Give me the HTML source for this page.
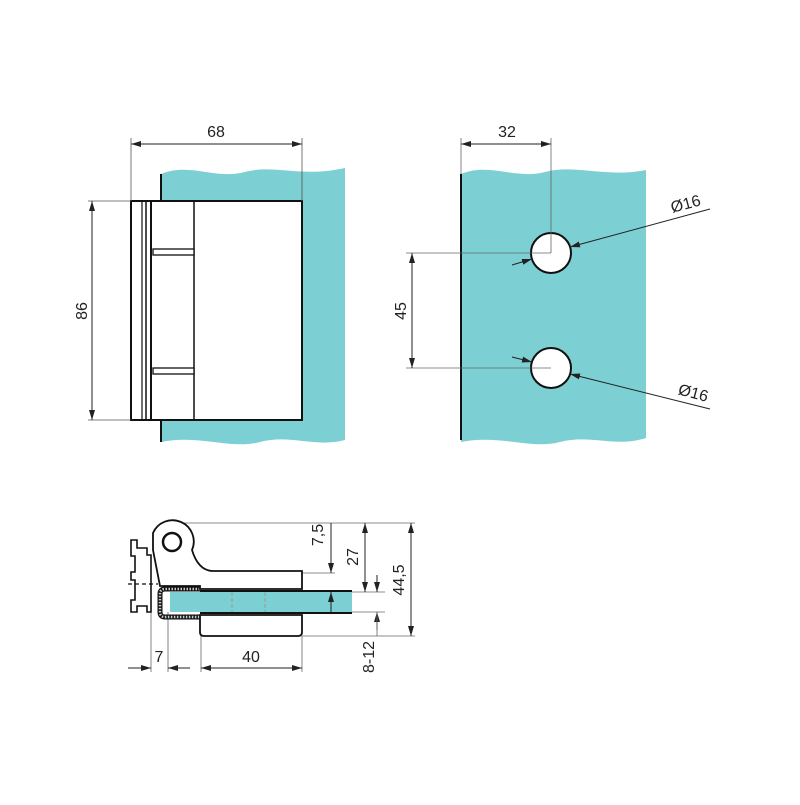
<!DOCTYPE html>
<html><head><meta charset="utf-8"><style>
html,body{margin:0;padding:0;background:#fff;}
text{font-family:"Liberation Sans",sans-serif;font-size:16px;fill:#222;}
</style></head><body>
<svg width="800" height="800" viewBox="0 0 800 800" xmlns="http://www.w3.org/2000/svg">
<defs>
<marker id="a" viewBox="0 0 10 6" refX="10" refY="3" markerWidth="10" markerHeight="6" orient="auto-start-reverse" markerUnits="userSpaceOnUse"><path d="M0,0 L10,3 L0,6z" fill="#222"/></marker>
</defs>
<!-- top-left glass -->
<path d="M161,174 C190,162 215,180 245,172 C275,164 300,178 345,168 L345,440 C315,448 290,434 260,442 C230,450 200,434 161,442 Z" fill="#7ccfd3"/>
<line x1="161" y1="174" x2="161" y2="442" stroke="#111" stroke-width="2"/>
<!-- hinge plate -->
<rect x="131" y="201" width="171" height="219" fill="#fff" stroke="#111" stroke-width="2"/>
<line x1="142" y1="201" x2="142" y2="420" stroke="#111" stroke-width="1.2"/>
<line x1="146" y1="201" x2="146" y2="420" stroke="#111" stroke-width="1.5"/>
<line x1="151" y1="201" x2="151" y2="420" stroke="#111" stroke-width="2"/>
<line x1="194" y1="201" x2="194" y2="420" stroke="#111" stroke-width="1.5"/>
<rect x="153" y="249" width="41" height="6" fill="#fff" stroke="#111" stroke-width="1.3"/>
<rect x="153" y="368" width="41" height="6" fill="#fff" stroke="#111" stroke-width="1.3"/>
<!-- dims top-left -->
<g stroke="#555" stroke-width="0.8">
<line x1="131" y1="138" x2="131" y2="201"/><line x1="302" y1="138" x2="302" y2="201"/>
<line x1="88" y1="201" x2="131" y2="201"/><line x1="88" y1="420" x2="131" y2="420"/>
</g>
<line x1="131" y1="144" x2="302" y2="144" stroke="#222" stroke-width="1" marker-start="url(#a)" marker-end="url(#a)"/>
<line x1="92" y1="201" x2="92" y2="420" stroke="#222" stroke-width="1" marker-start="url(#a)" marker-end="url(#a)"/>
<text x="216" y="137" text-anchor="middle">68</text>
<text transform="translate(87,311) rotate(-90)" text-anchor="middle">86</text>
<!-- top-right glass -->
<path d="M461,174 C490,162 515,180 545,172 C575,164 605,178 646,170 L646,438 C615,448 590,434 560,442 C530,450 500,434 461,442 Z" fill="#7ccfd3"/>
<line x1="461" y1="174" x2="461" y2="440" stroke="#111" stroke-width="2"/>
<circle cx="551" cy="253" r="20" fill="#fff" stroke="#111" stroke-width="2"/>
<circle cx="551" cy="368" r="20" fill="#fff" stroke="#111" stroke-width="2"/>
<g stroke="#666" stroke-width="0.8">
<line x1="461" y1="138" x2="461" y2="174"/><line x1="551" y1="138" x2="551" y2="253"/>
<line x1="406" y1="253" x2="551" y2="253"/><line x1="406" y1="368" x2="551" y2="368"/>
</g>
<line x1="461" y1="144" x2="551" y2="144" stroke="#222" stroke-width="1" marker-start="url(#a)" marker-end="url(#a)"/>
<line x1="412" y1="253" x2="412" y2="368" stroke="#222" stroke-width="1" marker-start="url(#a)" marker-end="url(#a)"/>
<text x="507" y="137" text-anchor="middle">32</text>
<text transform="translate(406,311) rotate(-90)" text-anchor="middle">45</text>
<line x1="512" y1="265" x2="532" y2="259" stroke="#222" stroke-width="1" marker-end="url(#a)"/>
<line x1="710" y1="209" x2="570" y2="247" stroke="#222" stroke-width="1" marker-end="url(#a)"/>
<line x1="512" y1="357" x2="532" y2="362" stroke="#222" stroke-width="1" marker-end="url(#a)"/>
<line x1="710" y1="409" x2="570" y2="374" stroke="#222" stroke-width="1" marker-end="url(#a)"/>
<text transform="translate(687,209) rotate(-15)" text-anchor="middle">Ø16</text>
<text transform="translate(692,398) rotate(15)" text-anchor="middle">Ø16</text>
<!-- bottom section -->
<g stroke="#666" stroke-width="0.8">
<line x1="180" y1="523" x2="415" y2="523"/>
<line x1="302" y1="573" x2="335" y2="573"/>
<line x1="352" y1="592" x2="385" y2="592"/>
<line x1="352" y1="612" x2="385" y2="612"/>
<line x1="302" y1="636" x2="415" y2="636"/>
<line x1="151" y1="612" x2="151" y2="672"/><line x1="168" y1="612" x2="168" y2="672"/>
<line x1="201" y1="636" x2="201" y2="672"/><line x1="302" y1="636" x2="302" y2="672"/>
</g>
<!-- glass -->
<rect x="170" y="592" width="182" height="20" fill="#7ccfd3"/>
<line x1="200" y1="591" x2="352" y2="591" stroke="#111" stroke-width="2"/>
<line x1="200" y1="613" x2="352" y2="613" stroke="#111" stroke-width="2"/>
<line x1="232" y1="592" x2="232" y2="612" stroke="#999" stroke-width="1" stroke-dasharray="4,2"/>
<line x1="265" y1="592" x2="265" y2="612" stroke="#999" stroke-width="1" stroke-dasharray="4,2"/>
<!-- gasket -->
<path d="M200,589 L165,589 Q160,589 160,594 L160,612 Q160,617 165,617 L200,617" fill="none" stroke="#111" stroke-width="5"/>
<path d="M200,589 L165,589 Q160,589 160,594 L160,612 Q160,617 165,617 L200,617" fill="none" stroke="#ccc" stroke-width="2.5" stroke-dasharray="1.5,1.5"/>
<!-- upper body -->
<path d="M153,533 A20,20 0 1 1 192,550 Q198,570 212,571 L302,571 L302,589 L200,589 L200,586 L160,586 L153,550 Z" fill="#fff" stroke="#111" stroke-width="1.8"/>
<circle cx="172" cy="542" r="9" fill="none" stroke="#111" stroke-width="2.5"/>
<!-- lower plate -->
<path d="M200,615 L302,615 L302,632 Q302,636 298,636 L204,636 Q200,636 200,632 Z" fill="#fff" stroke="#111" stroke-width="1.8"/>
<!-- left flange -->
<path d="M131,540 L137,540 L137,548 L147,548 L147,555 L151,555 L151,612 L147,612 L147,606 L137,606 L137,612 L131,612 L131,600 L135,600 L135,580 L131,580 L131,572 L135,572 L135,556 L131,556 Z" fill="#fff" stroke="#111" stroke-width="1.6"/>
<line x1="128" y1="584" x2="158" y2="584" stroke="#111" stroke-width="1.2" stroke-dasharray="4,3"/>
<!-- dims bottom -->
<line x1="331" y1="523" x2="331" y2="573" stroke="#222" stroke-width="1" marker-end="url(#a)"/>
<line x1="331" y1="612" x2="331" y2="592" stroke="#222" stroke-width="1" marker-end="url(#a)"/>
<line x1="365" y1="523" x2="365" y2="592" stroke="#222" stroke-width="1" marker-start="url(#a)" marker-end="url(#a)"/>
<line x1="411" y1="523" x2="411" y2="636" stroke="#222" stroke-width="1" marker-start="url(#a)" marker-end="url(#a)"/>
<line x1="377" y1="575" x2="377" y2="592" stroke="#222" stroke-width="1" marker-end="url(#a)"/>
<line x1="377" y1="630" x2="377" y2="612" stroke="#222" stroke-width="1" marker-end="url(#a)"/>
<line x1="377" y1="612" x2="377" y2="636" stroke="#666" stroke-width="0.8"/>
<line x1="128" y1="668" x2="151" y2="668" stroke="#222" stroke-width="1" marker-end="url(#a)"/>
<line x1="190" y1="668" x2="168" y2="668" stroke="#222" stroke-width="1" marker-end="url(#a)"/>
<line x1="201" y1="668" x2="302" y2="668" stroke="#222" stroke-width="1" marker-start="url(#a)" marker-end="url(#a)"/>
<text x="159" y="662" text-anchor="middle">7</text>
<text x="251" y="662" text-anchor="middle">40</text>
<text transform="translate(323,535) rotate(-90)" text-anchor="middle">7,5</text>
<text transform="translate(358,557) rotate(-90)" text-anchor="middle">27</text>
<text transform="translate(404,580) rotate(-90)" text-anchor="middle">44,5</text>
<text transform="translate(374,657) rotate(-90)" text-anchor="middle">8-12</text>
</svg>
</body></html>
